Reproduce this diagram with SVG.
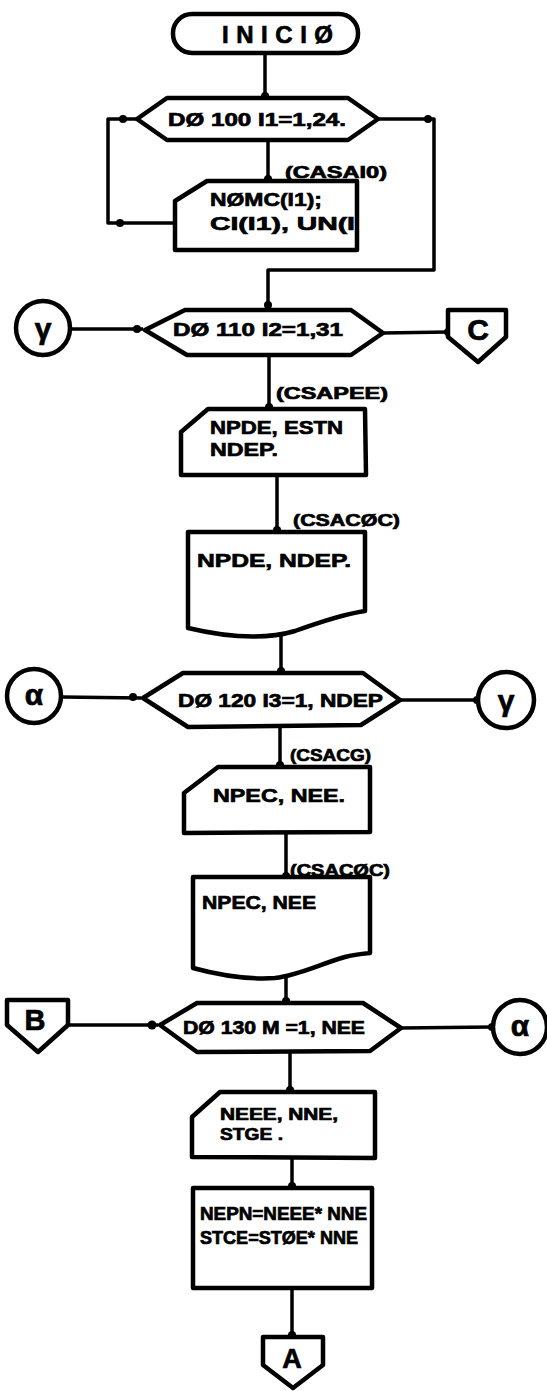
<svg xmlns="http://www.w3.org/2000/svg" width="547" height="1391" viewBox="0 0 547 1391">
  <style>
    .shape { fill: #fff; stroke: #000; stroke-width: 4.5; stroke-linejoin: round; }
    .wire { fill: none; stroke: #000; stroke-width: 3.5; stroke-linejoin: round; }
    .t { font-family: "Liberation Sans", "DejaVu Sans", sans-serif; font-weight: bold; fill: #000; stroke: #000; stroke-width: 0.7; }
    .lbl { font-size: 16px; }
    .body { font-size: 19px; }
    .big { font-size: 30px; }
  </style>
  <defs>
    <marker id="dot" viewBox="-5 -5 10 10" markerWidth="9" markerHeight="9" markerUnits="userSpaceOnUse">
      <circle r="4.5" fill="#000"/>
    </marker>
  </defs>
  <rect width="547" height="1391" fill="#fff"/>

  <!-- connectors -->
  <g id="connectors">
    <line class="wire" x1="265" y1="53" x2="265" y2="96" marker-end="url(#dot)"/>
    <line class="wire" x1="268" y1="140" x2="268" y2="179" marker-end="url(#dot)"/>
    <polyline class="wire" points="137,119 108,119 108,223 175,223"/>
    <circle cx="123" cy="119" r="4" fill="#000"/>
    <circle cx="120" cy="223" r="4" fill="#000"/>
    <polyline class="wire" points="378,119 434,119 434,270 268,270 268,308"/>
    <circle cx="428" cy="119" r="4" fill="#000"/>
    <circle cx="268" cy="305" r="4" fill="#000"/>
    <line class="wire" x1="72" y1="329" x2="143" y2="329"/>
    <circle cx="137" cy="329" r="4" fill="#000"/>
    <line class="wire" x1="383" y1="333" x2="448" y2="332" marker-end="url(#dot)"/>
    <line class="wire" x1="269" y1="355" x2="269" y2="407" marker-end="url(#dot)"/>
    <line class="wire" x1="277" y1="475" x2="277" y2="530" marker-end="url(#dot)"/>
    <line class="wire" x1="281" y1="636" x2="281" y2="671" marker-end="url(#dot)"/>
    <line class="wire" x1="62" y1="697" x2="141" y2="698"/>
    <circle cx="133" cy="697" r="4" fill="#000"/>
    <line class="wire" x1="400" y1="700" x2="477" y2="700" marker-end="url(#dot)"/>
    <line class="wire" x1="280" y1="724" x2="280" y2="765" marker-end="url(#dot)"/>
    <line class="wire" x1="286" y1="832" x2="286" y2="876" marker-end="url(#dot)"/>
    <line class="wire" x1="286" y1="976" x2="286" y2="1001" marker-end="url(#dot)"/>
    <line class="wire" x1="68" y1="1025" x2="158" y2="1025"/>
    <circle cx="152" cy="1025" r="4.5" fill="#000"/>
    <line class="wire" x1="401" y1="1028" x2="492" y2="1027" marker-end="url(#dot)"/>
    <line class="wire" x1="290" y1="1051" x2="290" y2="1090" marker-end="url(#dot)"/>
    <line class="wire" x1="292" y1="1158" x2="292" y2="1186" marker-end="url(#dot)"/>
    <line class="wire" x1="292" y1="1288" x2="292" y2="1335" marker-end="url(#dot)"/>
  </g>

  <!-- start terminal -->
  <g id="inicio">
    <rect class="shape" x="173" y="14" width="185" height="39" rx="19"/>
    <text class="t" x="222" y="43" font-size="24" textLength="111" lengthAdjust="spacing">INICIØ</text>
  </g>

  <!-- loop I1 -->
  <g id="do100">
    <polygon class="shape" points="137,119 167,98 348,98 378,119 348,140 167,140"/>
    <text class="t" x="168" y="126" font-size="18" textLength="178" lengthAdjust="spacingAndGlyphs">DØ 100 I1=1,24.</text>
  </g>

  <g id="read-casaio">
    <text class="t lbl" x="285" y="178" textLength="102" lengthAdjust="spacingAndGlyphs">(CASAI0)</text>
    <polygon class="shape" points="207,181 357,181 357,250 175,250 175,201"/>
    <text class="t body" x="210" y="206" textLength="112" lengthAdjust="spacingAndGlyphs">NØMC(I1);</text>
    <text class="t body" x="210" y="230" textLength="145" lengthAdjust="spacingAndGlyphs">CI(I1), UN(I</text>
  </g>

  <!-- loop I2 -->
  <g id="gamma-in">
    <circle class="shape" cx="43" cy="328" r="27"/>
    <text class="t big" x="43" y="339" text-anchor="middle">γ</text>
  </g>
  <g id="do110">
    <polygon class="shape" points="145,330 185,310 351,310 383,333 351,355 187,355"/>
    <text class="t" x="173" y="336" font-size="18" textLength="170" lengthAdjust="spacingAndGlyphs">DØ 110 I2=1,31</text>
  </g>
  <g id="conn-c">
    <polygon class="shape" points="448,310 506,310 506,337 478,362 448,337"/>
    <text class="t" x="478" y="340" font-size="30" text-anchor="middle">C</text>
  </g>

  <g id="read-csapee">
    <text class="t lbl" x="276" y="399" textLength="112" lengthAdjust="spacingAndGlyphs">(CSAPEE)</text>
    <polygon class="shape" points="208,409 365,409 366,475 181,475 181,432"/>
    <text class="t body" x="210" y="434" textLength="133" lengthAdjust="spacingAndGlyphs">NPDE, ESTN</text>
    <text class="t body" x="210" y="456" textLength="68" lengthAdjust="spacingAndGlyphs">NDEP.</text>
  </g>

  <g id="print-csacoc">
    <text class="t lbl" x="293" y="526" textLength="107" lengthAdjust="spacingAndGlyphs">(CSACØC)</text>
    <path class="shape" d="M188,532 L365,532 L365,611 C345,614 320,622 295,631 C265,640 230,638 188,628 Z"/>
    <text class="t body" x="197" y="567" textLength="154" lengthAdjust="spacingAndGlyphs">NPDE, NDEP.</text>
  </g>

  <!-- loop I3 -->
  <g id="alpha-in">
    <circle class="shape" cx="34" cy="696" r="27"/>
    <text class="t big" x="34" y="705" text-anchor="middle">α</text>
  </g>
  <g id="do120">
    <polygon class="shape" points="143,698 183,673 363,673 400,700 361,725 188,727"/>
    <text class="t" x="178" y="707" font-size="18" textLength="205" lengthAdjust="spacingAndGlyphs">DØ 120 I3=1, NDEP</text>
  </g>
  <g id="gamma-out">
    <circle class="shape" cx="506" cy="700" r="28"/>
    <text class="t big" x="506" y="711" text-anchor="middle">γ</text>
  </g>

  <g id="read-csacg">
    <text class="t lbl" x="290" y="761" textLength="81" lengthAdjust="spacingAndGlyphs">(CSACG)</text>
    <polygon class="shape" points="218,767 370,767 370,832 184,833 184,793"/>
    <text class="t body" x="213" y="802" textLength="132" lengthAdjust="spacingAndGlyphs">NPEC, NEE.</text>
  </g>

  <g id="print-csacoc2">
    <text class="t lbl" x="290" y="876" textLength="100" lengthAdjust="spacingAndGlyphs">(CSACØC)</text>
    <path class="shape" d="M193,877 L370,877 L370,953 C360,954 352,955 345,957 C320,964 300,975 275,978 C245,980 215,974 193,968 Z"/>
    <text class="t body" x="202" y="909" textLength="114" lengthAdjust="spacingAndGlyphs">NPEC, NEE</text>
  </g>

  <!-- loop M -->
  <g id="conn-b">
    <polygon class="shape" points="7,1000 68,1000 68,1025 38,1052 7,1025"/>
    <text class="t" x="35" y="1030" font-size="29" text-anchor="middle">B</text>
  </g>
  <g id="do130">
    <polygon class="shape" points="160,1025 197,1003 363,1003 401,1028 370,1051 197,1052"/>
    <text class="t" x="183" y="1034" font-size="18" textLength="182" lengthAdjust="spacingAndGlyphs">DØ 130 M =1, NEE</text>
  </g>
  <g id="alpha-out">
    <circle class="shape" cx="520" cy="1027" r="27"/>
    <text class="t big" x="520" y="1036" text-anchor="middle">α</text>
  </g>

  <g id="read-neee">
    <polygon class="shape" points="220,1092 375,1092 375,1158 192,1157 192,1117"/>
    <text class="t" x="220" y="1120" font-size="16" textLength="118" lengthAdjust="spacingAndGlyphs">NEEE, NNE,</text>
    <text class="t" x="220" y="1140" font-size="16" textLength="63" lengthAdjust="spacingAndGlyphs">STGE .</text>
  </g>

  <g id="compute">
    <rect class="shape" x="193" y="1188" width="179" height="100"/>
    <text class="t" x="200" y="1220" font-size="18" textLength="167" lengthAdjust="spacingAndGlyphs">NEPN=NEEE* NNE</text>
    <text class="t" x="200" y="1244" font-size="18" textLength="158" lengthAdjust="spacingAndGlyphs">STCE=STØE* NNE</text>
  </g>

  <g id="conn-a">
    <polygon class="shape" points="263,1337 323,1337 323,1365 293,1388 263,1365"/>
    <text class="t" x="292" y="1368" font-size="27" text-anchor="middle">A</text>
  </g>
</svg>
